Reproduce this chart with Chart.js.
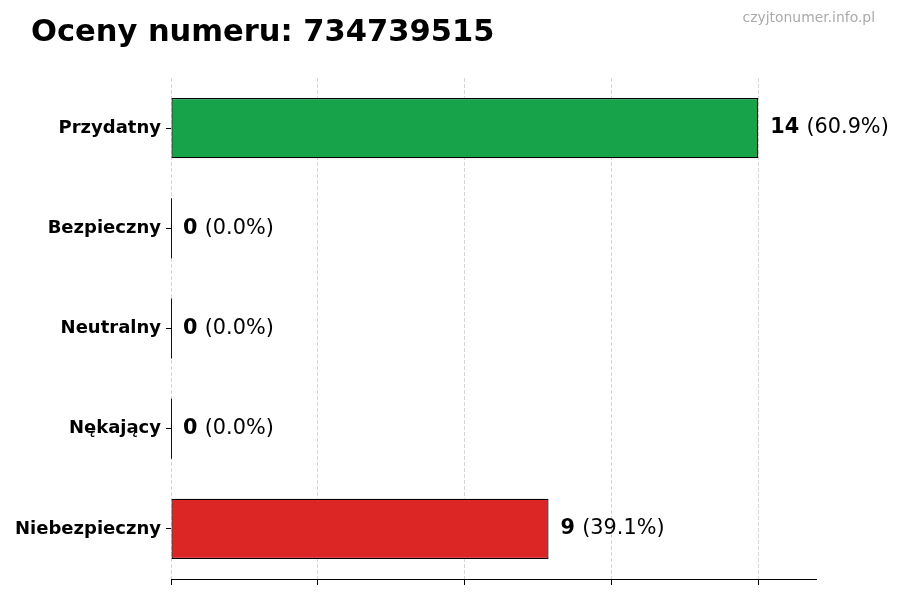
<!DOCTYPE html>
<html>
<head>
<meta charset="utf-8">
<script src="https://cdn.jsdelivr.net/npm/chart.js@4.4.1/dist/chart.umd.min.js"></script>
<style>
  html, body { margin: 0; padding: 0; background: #fff; }
  #wrap { width: 900px; height: 600px; }
</style>
</head>
<body>
<div id="wrap"><canvas id="ratingsChart" width="900" height="600"></canvas></div>
<script>
// data
const categories = ['Przydatny', 'Bezpieczny', 'Neutralny', 'Nękający', 'Niebezpieczny'];
const counts = [14, 0, 0, 0, 9];
const percents = ['60.9%', '0.0%', '0.0%', '0.0%', '39.1%'];
const barColors = ['#16a34a', '#16a34a', '#9ca3af', '#dc2626', '#dc2626'];
const xTicks = [0, 3.5, 7, 10.5, 14];

const titleText = 'Oceny numeru: 734739515';
const watermark = 'czyjtonumer.info.pl';
const FONT = '"DejaVu Sans", sans-serif';

// title + watermark
const headerPlugin = {
    id: 'header',
    afterDraw(chart) {
        const ctx = chart.ctx;
        ctx.save();
        ctx.fillStyle = '#000';
        ctx.font = 'bold 30.5px ' + FONT;
        ctx.textAlign = 'left';
        ctx.textBaseline = 'alphabetic';
        ctx.fillText(titleText, 31, 41);
        ctx.fillStyle = '#aaaaaa';
        ctx.font = '13.9px ' + FONT;
        ctx.textAlign = 'right';
        ctx.fillText(watermark, 875, 22);
        ctx.restore();
    }
};

// value labels next to bars, plus edge line for empty bars
const valueLabels = {
    id: 'valueLabels',
    afterDraw(chart) {
        const ctx = chart.ctx;
        const meta = chart.getDatasetMeta(0);
        const area = chart.chartArea;
        ctx.save();
        // bottom spine, solid
        ctx.strokeStyle = '#000';
        ctx.lineWidth = 1;
        ctx.beginPath();
        ctx.moveTo(area.left, area.bottom + 0.5);
        ctx.lineTo(area.right, area.bottom + 0.5);
        ctx.stroke();
        meta.data.forEach((bar, i) => {
            if (counts[i] === 0) {
                ctx.strokeStyle = '#111';
                ctx.lineWidth = 1;
                ctx.beginPath();
                ctx.moveTo(bar.x + 0.5, bar.y - bar.height / 2);
                ctx.lineTo(bar.x + 0.5, bar.y + bar.height / 2);
                ctx.stroke();
            }
            let x = bar.x + 12;
            const y = bar.y;
            ctx.textBaseline = 'middle';
            ctx.textAlign = 'left';
            ctx.fillStyle = '#000';
            ctx.font = 'bold 20.8px ' + FONT;
            const num = String(counts[i]);
            ctx.fillText(num, x, y);
            x += ctx.measureText(num + ' ').width;
            ctx.font = '20.8px ' + FONT;
            ctx.fillText('(' + percents[i] + ')', x, y);
        });
        ctx.restore();
    }
};

const data = {
    labels: categories,
    datasets: [
        {
            data: counts,
            backgroundColor: barColors,
            borderColor: '#000',
            borderWidth: 1.2,
            borderSkipped: false,
            barPercentage: 0.6,
            categoryPercentage: 1.0
        }
    ]
};

const config = {
    type: 'bar',
    data: data,
    options: {
        indexAxis: 'y',
        responsive: false,
        animation: false,
        layout: {
            padding: { left: 0, right: 83, top: 78, bottom: 0 }
        },
        plugins: {
            legend: { display: false },
            tooltip: { enabled: false }
        },
        scales: {
            x: {
                min: 0,
                max: 15.4,
                z: 1,
                afterBuildTicks: (scale) => {
                    scale.ticks = xTicks.map(v => ({ value: v }));
                },
                afterFit: (scale) => { scale.height = 21; },
                ticks: { display: false },
                grid: {
                    color: 'rgba(185,185,185,0.6)',
                    lineWidth: 1,
                    drawTicks: true,
                    tickLength: 6,
                    tickColor: '#000',
                    tickBorderDash: [],
                    tickWidth: 1
                },
                border: { display: false, dash: [4, 2] }
            },
            y: {
                afterFit: (scale) => { scale.width = 171; },
                ticks: {
                    color: '#000',
                    padding: 5,
                    font: { family: FONT, size: 18, weight: 'bold' }
                },
                grid: {
                    offset: false,
                    drawOnChartArea: false,
                    drawTicks: true,
                    tickLength: 5,
                    tickColor: '#000',
                    tickWidth: 1
                },
                border: { display: false }
            }
        }
    },
    plugins: [valueLabels, headerPlugin]
};

const myChart = new Chart(
    document.getElementById('ratingsChart'),
    config
);
</script>
</body>
</html>
